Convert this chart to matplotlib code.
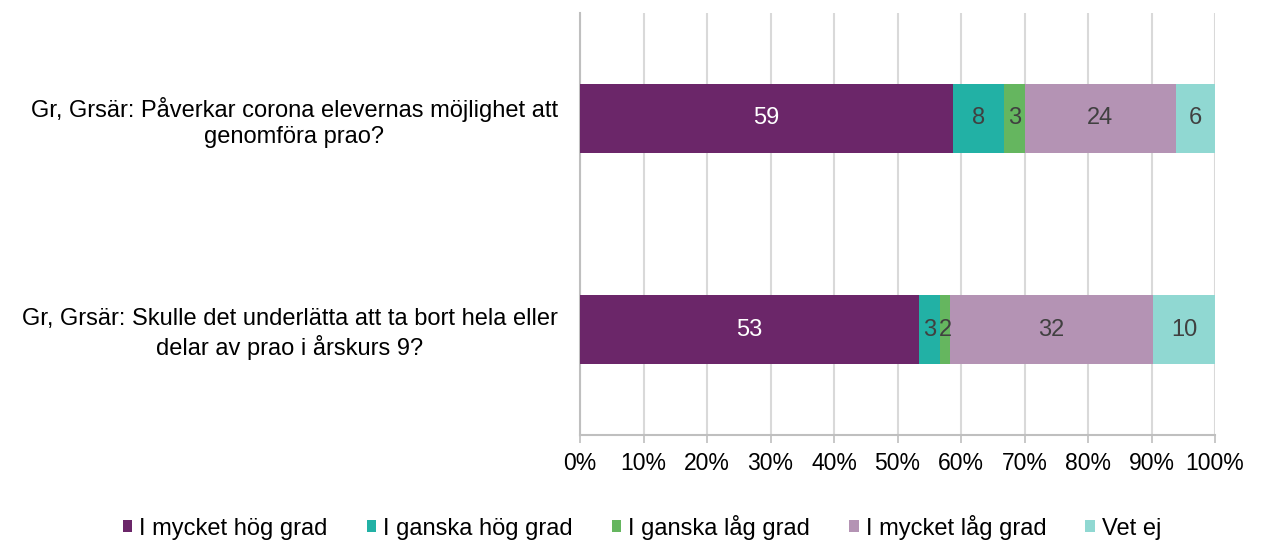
import matplotlib
matplotlib.use('Agg')
import matplotlib.pyplot as plt
import numpy as np

plt.rcParams['font.family'] = ['Liberation Sans', 'DejaVu Sans']

# data (percent)
questions = [
    'Gr, Grsär: Påverkar corona elevernas möjlighet att\ngenomföra prao?',
    'Gr, Grsär: Skulle det underlätta att ta bort hela eller\ndelar av prao i årskurs 9?',
]
series_names = ['I mycket hög grad', 'I ganska hög grad', 'I ganska låg grad',
                'I mycket låg grad', 'Vet ej']
mycket_hog = [58.7, 53.4]
ganska_hog = [8.1, 3.3]
ganska_lag = [3.2, 1.6]
mycket_lag = [23.8, 31.9]
vet_ej = [6.2, 9.8]
tick_labels = ['0%', '10%', '20%', '30%', '40%', '50%', '60%', '70%', '80%', '90%', '100%']

colors = ['#6B2669', '#22B1A5', '#65B65F', '#B493B4', '#90D8D2']
text_colors = ['white', '#404040', '#404040', '#404040', '#404040']


def main():
    fig = plt.figure(figsize=(12.63, 5.4), dpi=100)
    ax = fig.add_axes([580 / 1263, 1 - 435 / 540, 635 / 1263, 422 / 540])

    all_series = [mycket_hog, ganska_hog, ganska_lag, mycket_lag, vet_ej]
    y = np.arange(len(questions))
    left = np.zeros(len(questions))
    for name, vals, col, tcol in zip(series_names, all_series, colors, text_colors):
        vals = np.array(vals)
        bars = ax.barh(y, vals, left=left, height=0.33, color=col, label=name, zorder=3)
        ax.bar_label(bars, labels=[f'{v:.0f}' for v in vals], label_type='center',
                     color=tcol, fontsize=17, zorder=4)
        left += vals

    ax.set_xlim(0, 100)
    ax.set_ylim(1.5, -0.5)
    ax.set_xticks(np.arange(0, 101, 10))
    ax.set_xticklabels(tick_labels, fontsize=16.5, color='black')
    ax.set_yticks(y)
    ax.set_yticklabels(questions, fontsize=17, ha='right', multialignment='center')
    ax.tick_params(axis='y', length=0, pad=16)
    ax.tick_params(axis='x', length=6, color='#BFBFBF', width=1.2, pad=6)

    ax.grid(axis='x', color='#D9D9D9', linewidth=1.5, zorder=0)
    for s in ['top', 'right']:
        ax.spines[s].set_visible(False)
    for s in ['left', 'bottom']:
        ax.spines[s].set_color('#BFBFBF')
        ax.spines[s].set_linewidth(1.5)

    fig.legend(loc='center', bbox_to_anchor=(642 / 1263, 0.024), ncol=5,
               frameon=False, fontsize=17, handlelength=0.4, handleheight=0.4,
               handletextpad=0.3, columnspacing=1.65)

    plt.savefig('out.png', dpi=100)


if __name__ == "__main__":
    main()
